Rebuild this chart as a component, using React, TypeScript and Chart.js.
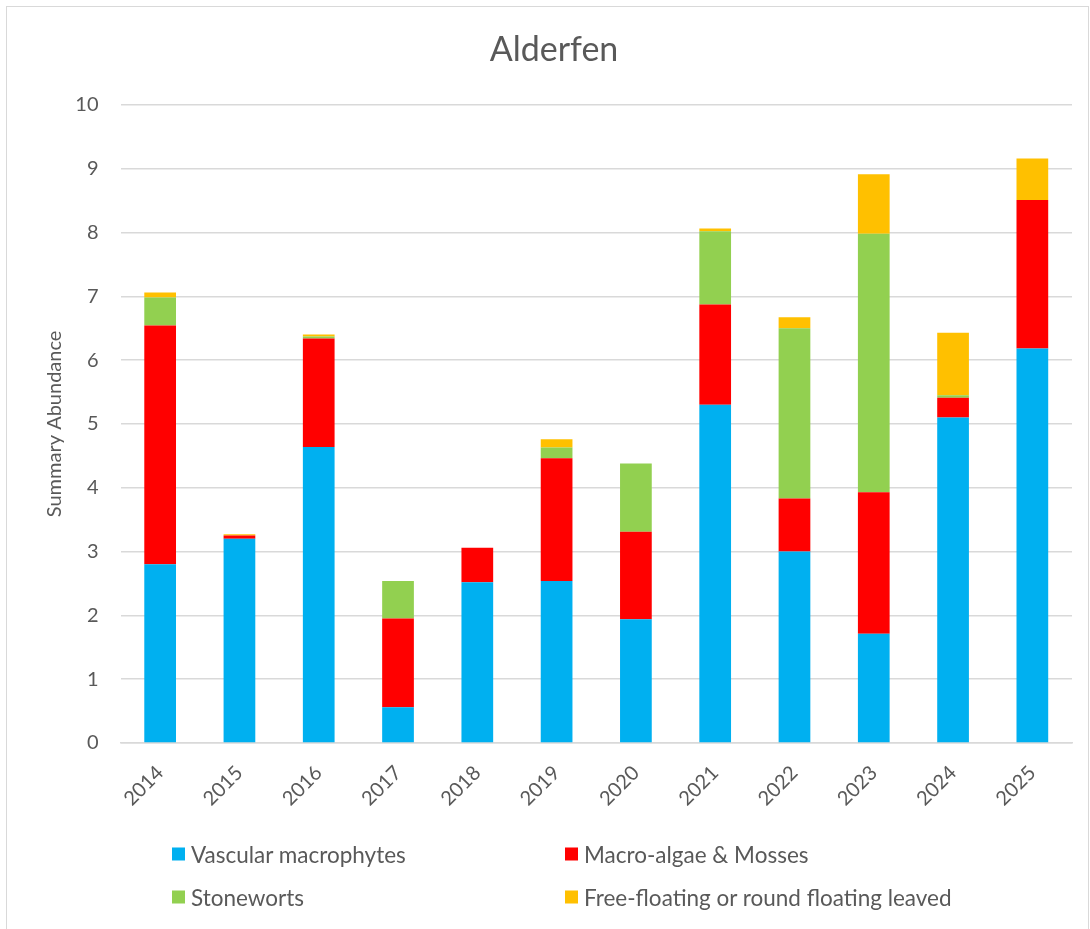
import React, { useEffect, useRef } from "react";
import { Chart, registerables } from "chart.js";

Chart.register(...registerables);

const years = ["2014", "2015", "2016", "2017", "2018", "2019", "2020", "2021", "2022", "2023", "2024", "2025"];
const vascular = [2.8, 3.2, 4.64, 0.56, 2.52, 2.54, 1.94, 5.3, 3.0, 1.71, 5.1, 6.18];
const macroAlgae = [3.74, 0.05, 1.7, 1.39, 0.54, 1.92, 1.37, 1.57, 0.83, 2.22, 0.31, 2.33];
const stoneworts = [0.44, 0, 0.03, 0.59, 0, 0.17, 1.07, 1.15, 2.67, 4.05, 0.04, 0];
const freeFloating = [0.08, 0.02, 0.03, 0, 0, 0.13, 0, 0.04, 0.17, 0.93, 0.98, 0.65];
const yTicks = [0, 1, 2, 3, 4, 5, 6, 7, 8, 9, 10];

const seriesNames = ["Vascular macrophytes", "Macro-algae & Mosses", "Stoneworts", "Free-floating or round floating leaved"];
const seriesColors = ["#00B0F0", "#FF0000", "#92D050", "#FFC000"];
const seriesValues = [vascular, macroAlgae, stoneworts, freeFloating];

const FONT = "Lato, 'Open Sans', sans-serif";
const TEXT = "#595959";
const GRID = "#d9d9d9";

// legend grid: two columns, two rows
const legendSlots = [
  { left: 172, top: 854 },
  { left: 565, top: 854 },
  { left: 172, top: 897 },
  { left: 565, top: 897 },
];

export default function App() {
  const canvasRef = useRef<HTMLCanvasElement | null>(null);

  useEffect(() => {
    const ctx = canvasRef.current;
    if (!ctx) return;
    const chart = new Chart(ctx, {
      type: "bar",
      data: {
        labels: years,
        datasets: seriesNames.map((name, i) => ({
          label: name,
          data: seriesValues[i],
          backgroundColor: seriesColors[i],
          borderWidth: 0,
          categoryPercentage: 1,
          barPercentage: 0.4,
        })),
      },
      options: {
        animation: false,
        responsive: false,
        maintainAspectRatio: false,
        layout: { padding: { left: 36, right: 18, top: 0, bottom: 0 } },
        plugins: {
          legend: { display: false },
          tooltip: { enabled: false },
          title: {
            display: true,
            text: "Alderfen",
            color: TEXT,
            font: { family: FONT, size: 34, weight: "normal" },
            padding: { top: 30, bottom: 34 },
          },
        },
        scales: {
          x: {
            stacked: true,
            grid: { display: false },
            border: { display: true, color: GRID, width: 1.5 },
            ticks: {
              color: TEXT,
              font: { family: FONT, size: 20 },
              minRotation: 45,
              maxRotation: 45,
              padding: 10,
            },
            afterFit: (scale: any) => {
              scale.height = 929 - 743;
            },
          },
          y: {
            stacked: true,
            min: 0,
            max: 10,
            afterBuildTicks: (scale: any) => {
              scale.ticks = yTicks.map((v) => ({ value: v }));
            },
            grid: { color: GRID, lineWidth: 1.5, drawTicks: false },
            border: { display: false },
            ticks: {
              color: TEXT,
              font: { family: FONT, size: 20 },
              padding: 22,
            },
            title: {
              display: true,
              text: "Summary Abundance",
              color: TEXT,
              font: { family: FONT, size: 20 },
              padding: { top: 7, bottom: 0 },
            },
            afterFit: (scale: any) => {
              scale.width = 84.5;
            },
          },
        },
      },
    });
    return () => chart.destroy();
  }, []);

  return (
    <div
      style={{
        position: "absolute",
        left: 0,
        top: 0,
        width: 1090,
        height: 929,
        overflow: "hidden",
        background: "#fff",
        fontFamily: FONT,
      }}
    >
      <div
        style={{
          position: "absolute",
          left: 6,
          top: 6,
          right: 1,
          height: 960,
          border: `1.5px solid ${GRID}`,
          boxSizing: "border-box",
        }}
      />
      <canvas ref={canvasRef} width={1090} height={929} style={{ position: "absolute", left: 0, top: 0 }} />
      {seriesNames.map((name, i) => (
        <div
          key={name}
          style={{
            position: "absolute",
            left: legendSlots[i].left,
            top: legendSlots[i].top,
            transform: "translateY(-50%)",
            display: "flex",
            alignItems: "center",
            color: TEXT,
            fontSize: 22.5,
            whiteSpace: "nowrap",
          }}
        >
          <span
            style={{
              display: "inline-block",
              width: 13,
              height: 13,
              background: seriesColors[i],
              marginRight: 6,
            }}
          />
          <span>{name}</span>
        </div>
      ))}
    </div>
  );
}
